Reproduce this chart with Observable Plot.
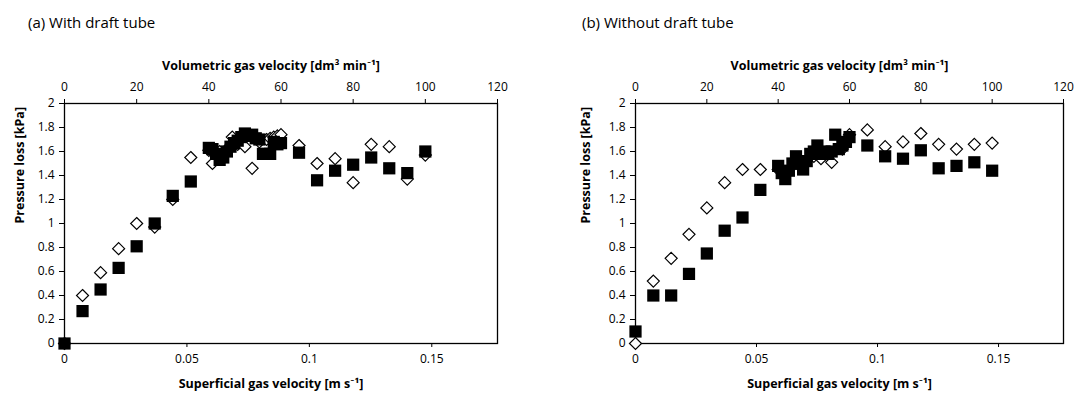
<!DOCTYPE html>
<html>
<head>
<meta charset="utf-8">
<script src="https://cdn.jsdelivr.net/npm/d3@7"></script>
<script src="https://cdn.jsdelivr.net/npm/@observablehq/plot@0.6"></script>
<style>
  html, body { margin: 0; padding: 0; background: #fff; }
  #wrap { position: relative; width: 1079px; height: 397px; overflow: hidden; font-family: "Open Sans", Lato, sans-serif; }
  .panel { position: absolute; top: 0; }
  .ptitle { position: absolute; top: 12px; font-size: 15px; color: #000; white-space: nowrap; }
</style>
</head>
<body>
<div id="wrap">
  <div class="ptitle" style="left:28px">(a) With draft tube</div>
  <div class="ptitle" style="left:582px">(b) Without draft tube</div>
  <div id="pa" class="panel" style="left:0px"></div>
  <div id="pb" class="panel" style="left:540px"></div>
</div>
<script>
// ---- Data (volumetric gas velocity [dm3/min], pressure loss [kPa]) ----
const openA_x = [0,5,10,15,20,25,30,35,40,41,43,45,46.5,48,50,52,54,56,57,58,59,60,65,70,75,80,85,90,95,100];
const openA_y = [0,0.40,0.59,0.79,1.00,0.97,1.20,1.55,1.61,1.50,1.60,1.62,1.72,1.66,1.64,1.46,1.68,1.70,1.71,1.72,1.73,1.74,1.65,1.50,1.54,1.34,1.66,1.64,1.37,1.57];
const filledA_x = [0,5,10,15,20,25,30,35,40,41,42,43,44,45,46,47,48,49,50,51,52,53,54,55,56,57,58,59,60,65,70,75,80,85,90,95,100];
const filledA_y = [0,0.27,0.45,0.63,0.81,1.00,1.23,1.35,1.63,1.62,1.58,1.53,1.55,1.60,1.64,1.67,1.69,1.72,1.75,1.73,1.74,1.71,1.70,1.58,1.58,1.58,1.68,1.66,1.67,1.59,1.36,1.44,1.49,1.55,1.46,1.42,1.60];

const openB_x = [0,5,10,15,20,25,30,35,40,45,48,50,52,55,58,60,65,70,75,80,85,90,95,100];
const openB_y = [0,0.52,0.71,0.91,1.13,1.34,1.45,1.45,1.45,1.50,1.52,1.56,1.54,1.51,1.62,1.74,1.78,1.64,1.68,1.75,1.66,1.62,1.66,1.67];
const filledB_x = [0,5,10,15,20,25,30,35,40,41,42,43,44,45,46,47,48,49,50,51,52,53,54,55,56,57,58,59,60,65,70,75,80,85,90,95,100];
const filledB_y = [0.10,0.40,0.40,0.58,0.75,0.94,1.05,1.28,1.48,1.42,1.37,1.44,1.50,1.56,1.50,1.45,1.52,1.58,1.60,1.65,1.58,1.60,1.58,1.60,1.74,1.62,1.65,1.68,1.72,1.65,1.56,1.54,1.61,1.46,1.48,1.51,1.44];

// ---- Axes ----
const volTicks = [0,20,40,60,80,100,120];
const velTicks = [0,0.05,0.1,0.15];
const velTickLabels = ["0","0.05","0.1","0.15"];
const yTicks = [0,0.2,0.4,0.6,0.8,1,1.2,1.4,1.6,1.8,2];
const yTickLabels = ["0","0.2","0.4","0.6","0.8","1","1.2","1.4","1.6","1.8","2"];
const topTitle = "Volumetric gas velocity [dm³ min⁻¹]";
const bottomTitle = "Superficial gas velocity [m s⁻¹]";
const yTitle = "Pressure loss [kPa]";
// column diameter 0.12 m: 120 dm3/min  <->  0.1768 m/s
const VOL_MAX = 120;
const VEL_MAX = (120/1000/60) / (Math.PI*0.06*0.06);
const velToVol = v => v * VOL_MAX / VEL_MAX;

const diamond = {
  draw(ctx, size) {
    const h = Math.sqrt(size / Math.PI);
    ctx.moveTo(0, -h); ctx.lineTo(h, 0); ctx.lineTo(0, h); ctx.lineTo(-h, 0); ctx.closePath();
  }
};

function zip(xs, ys) { return xs.map((x, i) => ({x, y: ys[i]})); }

function panel(openX, openY, filledX, filledY, opts) {
  const open = zip(openX, openY);
  const filled = zip(filledX, filledY);
  return Plot.plot({
    width: opts.width,
    height: 397,
    marginLeft: opts.marginLeft,
    marginRight: opts.marginRight,
    marginTop: 103,
    marginBottom: 54,
    style: {fontFamily: "'Open Sans', Lato, sans-serif", fontSize: "12px", color: "#000", background: "transparent", overflow: "visible"},
    x: {domain: [0, VOL_MAX]},
    y: {domain: [0, 2]},
    marks: [
      Plot.frame({stroke: "#000", strokeWidth: 1.3}),
      Plot.axisX({anchor: "top", ticks: volTicks, tickFormat: d => String(d), tickSize: 5, tickPadding: 8, label: null, stroke: "#000"}),
      Plot.axisX({anchor: "bottom", ticks: velTicks.map(velToVol), tickFormat: (d) => velTickLabels[velTicks.findIndex(v => Math.abs(velToVol(v) - d) < 1e-6)], tickSize: 4, tickPadding: 7, label: null}),
      Plot.axisY({anchor: "left", ticks: yTicks, tickFormat: d => yTickLabels[yTicks.findIndex(v => Math.abs(v - d) < 1e-9)], tickSize: 5, tickPadding: 5, label: null}),
      Plot.text([topTitle], {frameAnchor: "top", dy: -42, dx: -10, fontWeight: "bold", fontSize: 12.5, fill: "#000"}),
      Plot.text([bottomTitle], {frameAnchor: "bottom", dy: 44, dx: -10, fontWeight: "bold", fontSize: 12.5, fill: "#000"}),
      Plot.text([yTitle], {frameAnchor: "left", dx: opts.yTitleDx, rotate: -90, fontWeight: "bold", fontSize: 12.5, fill: "#000"}),
      Plot.dot(open, {x: "x", y: "y", symbol: diamond, r: 6, fill: "#fff", stroke: "#000", strokeWidth: 1.2}),
      Plot.dot(filled, {x: "x", y: "y", symbol: "square", r: 6.9, fill: "#000", stroke: "none"})
    ]
  });
}

document.getElementById("pa").append(panel(openA_x, openA_y, filledA_x, filledA_y, {width: 540, marginLeft: 64, marginRight: 43, yTitleDx: -45}));
document.getElementById("pb").append(panel(openB_x, openB_y, filledB_x, filledB_y, {width: 539, marginLeft: 95, marginRight: 16, yTitleDx: -50}));
</script>
</body>
</html>
